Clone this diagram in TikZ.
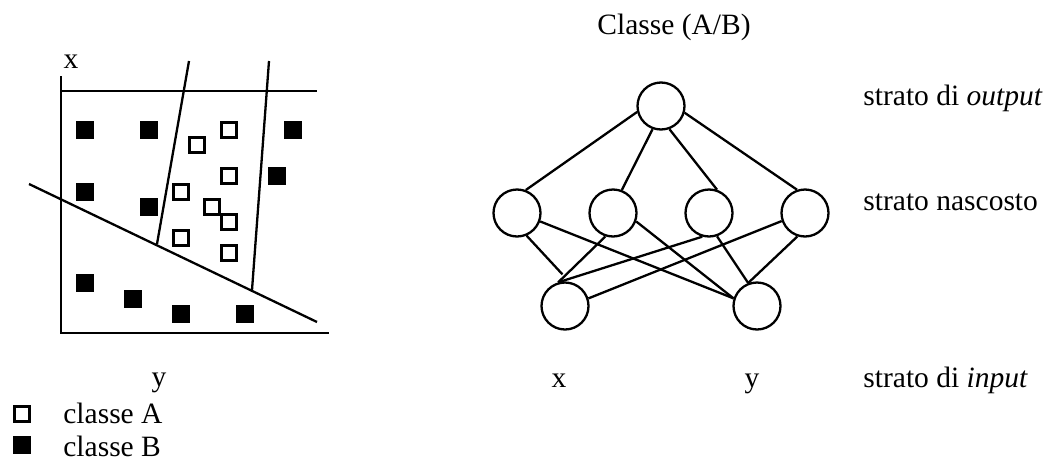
\documentclass[tikz,border=0pt]{standalone}
\usepackage{fontspec}
\setmainfont{Liberation Serif}
\tikzset{
  neuron/.style={draw,circle,line width=1.15pt,minimum size=23.5pt,inner sep=0pt},
  clsA/.style={draw,rectangle,line width=1.1pt,minimum size=7.5pt,inner sep=0pt},
  clsB/.style={fill,rectangle,minimum size=9pt,inner sep=0pt},
  wire/.style={line width=1.15pt},
  lbl/.style={inner sep=0pt},
}
\begin{document}
\begin{tikzpicture}[x=0.5pt,y=-0.5pt,font=\fontsize{14.75}{17}\selectfont]
\useasboundingbox (0,0) rectangle (1048,461);
% feature plane
\draw[wire] (61,76) -- (61,333) -- (329,333);
\draw[wire] (61,91) -- (317,91);
\draw[wire] (29,184) -- (317,322);
\draw[wire] (189,61) -- (157,244);
\draw[wire] (269,61) -- (252,290);
\foreach \x/\y in {85/130,149/130,293/130,277/176,85/192,149/207,85/283,133/299,181/314,245/314}
  \node[clsB] (b-\x-\y) at (\x,\y) {};
\foreach \x/\y in {229/130,197/145,229/176,181/192,212/207,229/222,181/238,229/253}
  \node[clsA] (a-\x-\y) at (\x,\y) {};
\node[lbl,anchor=base] (lx) at (71,68) {x};
\node[lbl,anchor=base] (ly) at (159,386) {y};
\node[clsA] (keyA) at (22,414) {};
\node[lbl,anchor=base west] (txtA) at (63,423) {classe A};
\node[clsB] (keyB) at (22,445) {};
\node[lbl,anchor=base west] (txtB) at (63,456) {classe B};
% network
\node[neuron] (out) at (661,106) {};
\node[neuron] (h1) at (517,213) {};
\node[neuron] (h2) at (613,213) {};
\node[neuron] (h3) at (709,213) {};
\node[neuron] (h4) at (805,213) {};
\node[neuron] (in1) at (565,306) {};
\node[neuron] (in2) at (757,306) {};
\draw[wire] (out.194) -- (h1.69);
\draw[wire] (out.250) -- (h2.69);
\draw[wire] (out.290) -- (h3.71);
\draw[wire] (out.344) -- (h4.109);
\draw[wire,shorten >=5pt] (h1.293) -- (in1.80);
\draw[wire] (h1.340) -- (in2.162);
\draw[wire] (h2.252) -- (in1.106);
\draw[wire] (h2.340) -- (in2.162);
\draw[wire] (h3.254) -- (in1.106);
\draw[wire] (h3.289) -- (in2.111);
\draw[wire] (h4.199) -- (in1.18);
\draw[wire] (h4.252) -- (in2.111);
\node[lbl,anchor=base west] (title) at (597,34) {Classe (A/B)};
\node[lbl,anchor=base west] (lout) at (863,105) {strato di \textit{output}};
\node[lbl,anchor=base west] (lhid) at (863,210) {strato nascosto};
\node[lbl,anchor=base west] (lin) at (863,387) {strato di \textit{input}};
\node[lbl,anchor=base] (vx) at (559,387) {x};
\node[lbl,anchor=base] (vy) at (752,387) {y};
\end{tikzpicture}
\end{document}
